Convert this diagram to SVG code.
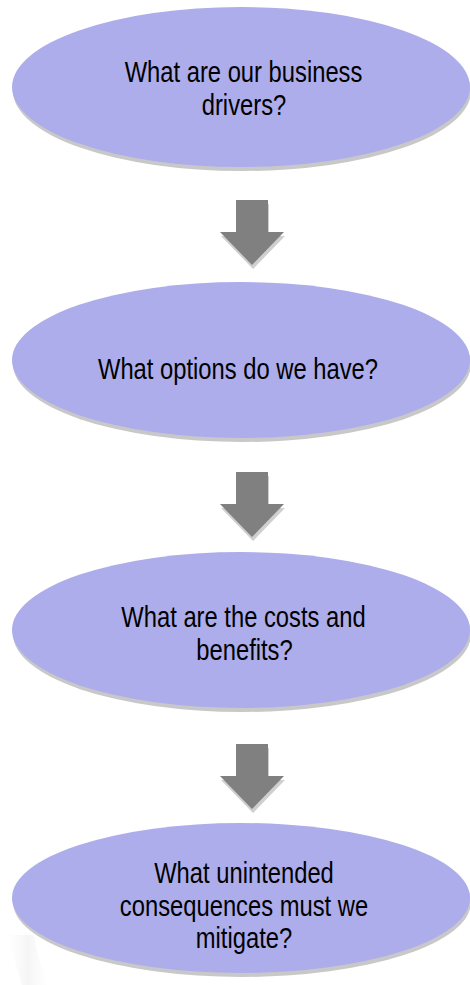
<svg xmlns="http://www.w3.org/2000/svg" width="470" height="985" viewBox="0 0 470 985">
  <style>
    .shadow { fill: #c8c8c8; }
    .oval { fill: #adadeb; }
    .label { font-family: "Liberation Sans", Arial, sans-serif; font-size: 29px; fill: #000; text-anchor: middle; }
    .arrow { fill: #808080; }
    .arrow-shadow { fill: #cfcfcf; }
  </style>
  <defs>
    <linearGradient id="wm" x1="0" y1="0" x2="1" y2="0">
      <stop offset="0" stop-color="#f4f4f4" stop-opacity="0"/>
      <stop offset="0.5" stop-color="#f1f1f1" stop-opacity="0.7"/>
      <stop offset="1" stop-color="#f4f4f4" stop-opacity="0"/>
    </linearGradient>
    <path id="arrowShape" d="M -16 0 H 16 V 32 H 32 L 0 65 L -32 32 H -16 Z"/>
  </defs>
  <rect width="470" height="985" fill="#ffffff"/>
  <path d="M 8 935 Q 14 960 22 985 L 48 985 Q 38 960 34 935 Z" fill="url(#wm)"/>

  <g id="connectors">
    <g transform="translate(252,200)">
      <use href="#arrowShape" class="arrow-shadow" transform="translate(1,4)"/>
      <use href="#arrowShape" class="arrow"/>
    </g>
    <g transform="translate(252,472)">
      <use href="#arrowShape" class="arrow-shadow" transform="translate(1,4)"/>
      <use href="#arrowShape" class="arrow"/>
    </g>
    <g transform="translate(252,744)">
      <use href="#arrowShape" class="arrow-shadow" transform="translate(1,4)"/>
      <use href="#arrowShape" class="arrow"/>
    </g>
  </g>

  <g id="node1">
    <ellipse class="shadow" cx="242" cy="91" rx="229" ry="80"/>
    <ellipse class="oval" cx="241" cy="87" rx="229" ry="80"/>
    <text class="label" transform="translate(243.5,82) scale(0.82,1)" x="0" y="0">What are our business</text>
    <text class="label" transform="translate(244,115) scale(0.82,1)" x="0" y="0">drivers?</text>
  </g>

  <g id="node2">
    <ellipse class="shadow" cx="242" cy="364" rx="229" ry="78"/>
    <ellipse class="oval" cx="241" cy="360" rx="229" ry="78"/>
    <text class="label" transform="translate(238,379) scale(0.82,1)" x="0" y="0">What options do we have?</text>
  </g>

  <g id="node3">
    <ellipse class="shadow" cx="242" cy="634" rx="229" ry="78"/>
    <ellipse class="oval" cx="241" cy="630" rx="229" ry="78"/>
    <text class="label" transform="translate(243.5,627) scale(0.82,1)" x="0" y="0">What are the costs and</text>
    <text class="label" transform="translate(244.5,660) scale(0.82,1)" x="0" y="0">benefits?</text>
  </g>

  <g id="node4">
    <ellipse class="shadow" cx="242" cy="902" rx="229" ry="75"/>
    <ellipse class="oval" cx="241" cy="898" rx="229" ry="75"/>
    <text class="label" transform="translate(244,883) scale(0.82,1)" x="0" y="0">What unintended</text>
    <text class="label" transform="translate(244,916) scale(0.82,1)" x="0" y="0">consequences must we</text>
    <text class="label" transform="translate(244,948) scale(0.82,1)" x="0" y="0">mitigate?</text>
  </g>
</svg>
